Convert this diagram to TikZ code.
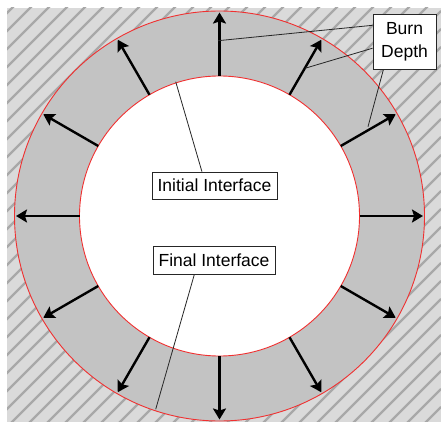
\documentclass[tikz,border=0pt]{standalone}
\usepackage{fontspec}
\setmainfont{Liberation Sans}
\usetikzlibrary{arrows.meta,calc}
\definecolor{bggray}{HTML}{DADADA}
\definecolor{stripegray}{HTML}{A8A8A8}
\definecolor{ringgray}{HTML}{C3C3C3}
\definecolor{ringred}{HTML}{F03030}
\tikzset{
  stripe/.style={draw=stripegray,line width=2.3pt},
  burnarrow/.style={line width=2.4pt,-{Stealth[length=11pt,width=13pt,inset=2pt]}},
  redcircle/.style={draw=ringred,line width=0.9pt},
  labelbox/.style={draw=black!85,line width=0.8pt,fill=white,inner sep=0pt,
    font=\fontsize{17.5}{23}\selectfont,align=center},
  leader/.style={draw=black!85,line width=0.8pt}
}
\begin{document}
\begin{tikzpicture}[x=1pt,y=-1pt]
\useasboundingbox (0,0) rectangle (441,422);
\fill[bggray] (7,8) rectangle (441,422);
\begin{scope}
  \clip (7,8) rectangle (441,422);
  \foreach \k in {0,...,50} \draw[stripe] (0,\k*18+2) -- ++(441,-441);
\end{scope}
\coordinate (O) at (219.5,216);
\fill[ringgray] (O) circle[radius=205];
\fill[white] (O) circle[radius=140];
\draw[redcircle] (O) circle[radius=205];
\draw[redcircle] (O) circle[radius=140];
\foreach \a in {0,30,...,330} {
  \coordinate (i\a) at ($(O)+(\a:140)$);
  \coordinate (o\a) at ($(O)+(\a:203.5)$);
  \draw[burnarrow] (i\a) -- (o\a);
}
% labels
\node[labelbox,minimum width=63pt,minimum height=55pt] (bd) at (404.5,41.5) {Burn\\Depth};
\node[labelbox,minimum width=125pt,minimum height=27pt] (ii) at (214.5,185.5) {Initial Interface};
\node[labelbox,minimum width=122pt,minimum height=28pt] (fi) at (214,260) {Final Interface};
% leader end points
\coordinate (p1) at (218,40.7);
\coordinate (p2) at (305,68.3);
\coordinate (p3) at (368,126.7);
\coordinate (q1) at (175.7,81.7);
\coordinate (q2) at (155.7,409.3);
\draw[leader] ($(bd.north west)!0.21!(bd.south west)$) -- (p1);
\draw[leader] ($(bd.north west)!0.62!(bd.south west)$) -- (p2);
\draw[leader] ($(bd.south west)!0.17!(bd.south east)$) -- (p3);
\draw[leader] ($(ii.north west)!0.40!(ii.north east)$) -- (q1);
\draw[leader] ($(fi.south west)!0.34!(fi.south east)$) -- (q2);
\end{tikzpicture}
\end{document}
